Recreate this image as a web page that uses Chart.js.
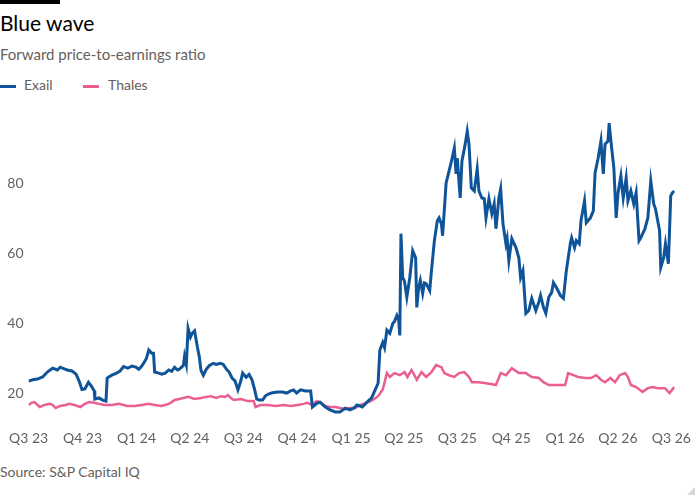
<!DOCTYPE html>
<html>
<head>
<meta charset="utf-8">
<script src="https://cdn.jsdelivr.net/npm/chart.js@4.4.1/dist/chart.umd.min.js"></script>
<style>
  body { margin: 0; width: 700px; height: 500px; background: #fff; font-family: Lato, sans-serif; position: relative; overflow: hidden; }
  .bar { position: absolute; left: 0; top: 0; width: 60px; height: 4px; background: #000; }
  .title { position: absolute; left: 0; top: 10px; font-size: 21px; color: #000; line-height: 1.2; }
  .subtitle { position: absolute; left: 0; top: 45px; font-size: 15px; color: #66605c; line-height: 1.2; }
  .legend { position: absolute; top: 77px; left: 0; font-size: 14px; color: #66605c; line-height: 1.2; }
  .legend span { position: absolute; white-space: nowrap; }
  .legend i { position: absolute; top: 8px; width: 16px; height: 3px; }
  .source { position: absolute; left: 0; top: 464px; font-size: 14px; color: #66605c; line-height: 1.2; }
  .grip { position: absolute; left: 687px; top: 487px; width: 0; height: 0; border-left: 8px solid transparent; border-bottom: 8px solid #d6d6d6; }
  #wrap { position: absolute; left: 0; top: 100px; width: 700px; height: 360px; }
</style>
</head>
<body>
<div class="bar"></div>
<div class="title">Blue wave</div>
<div class="subtitle">Forward price-to-earnings ratio</div>
<div class="legend">
  <i style="left:0; background:#0f5499"></i><span style="left:24px">Exail</span>
  <i style="left:83px; background:#ea5e93"></i><span style="left:108px">Thales</span>
</div>
<div id="wrap"><canvas id="chart" width="700" height="360"></canvas></div>
<div class="source">Source: S&amp;P Capital IQ</div>
<div class="grip"></div>
<script>
// x = days since 1 Jul 2023, y = forward P/E
const exail = [
  [0,23.4],[7,23.8],[15,24.0],[24,24.6],[32,26.0],[41,27.1],[49,26.6],[54,27.4],[61,26.9],[66,26.6],
  [74,26.3],[81,25.4],[86,23.5],[91,21.0],[96,21.2],[102,23.1],[107,22.0],[112,20.6],[113,18.3],[120,18.6],
  [127,17.9],[132,17.7],[134,24.3],[142,25.1],[149,25.6],[156,26.3],[162,27.6],[169,27.1],[176,27.7],[183,27.4],
  [188,26.8],[193,27.7],[198,29.0],[201,30.0],[205,32.3],[210,31.4],[213,31.4],[215,26.0],[222,25.7],[227,25.4],
  [233,25.7],[239,26.6],[244,26.2],[249,27.4],[254,26.6],[257,26.8],[264,27.9],[266,30.5],[269,28.2],[272,38.5],
  [276,36.0],[279,37.1],[283,37.8],[288,33.0],[291,30.5],[294,26.5],[298,25.1],[303,26.8],[308,27.8],[315,28.5],
  [320,28.2],[327,28.5],[332,28.2],[337,26.9],[342,26.0],[347,24.3],[352,23.5],[357,20.9],[362,23.5],[365,25.7],
  [371,24.5],[376,25.3],[381,23.8],[386,20.6],[389,18.3],[393,18.0],[399,18.0],[404,19.2],[409,19.7],[416,20.1],
  [425,20.3],[433,20.3],[440,20.0],[447,20.6],[452,20.9],[457,20.0],[464,20.9],[472,20.6],[481,20.6],[484,16.0],
  [491,17.0],[497,17.4],[506,16.0],[514,15.2],[523,14.6],[531,14.6],[540,15.7],[548,15.2],[555,15.7],[560,16.6],
  [569,16.0],[577,17.4],[585,18.6],[591,20.9],[596,22.8],[599,32.3],[604,34.5],[607,33.0],[611,38.0],[616,37.1],
  [621,39.9],[624,40.5],[628,42.2],[631,41.0],[633,36.5],[635,65.6],[638,53.0],[641,52.0],[645,47.4],[650,53.0],
  [655,60.7],[660,58.7],[662,44.5],[665,50.0],[668,52.2],[672,48.5],[675,51.5],[678,51.3],[684,49.3],[687,55.0],
  [692,63.6],[697,69.3],[700,70.1],[704,68.4],[706,65.0],[712,80.1],[717,83.5],[722,87.0],[726,90.1],[729,82.7],
  [731,87.2],[736,75.8],[739,86.4],[744,90.7],[748,94.9],[751,91.2],[755,78.7],[760,77.8],[765,84.1],[768,77.8],
  [773,75.8],[777,75.6],[780,70.1],[785,75.6],[790,71.3],[794,74.1],[797,67.0],[802,75.8],[805,78.4],[809,68.4],
  [814,62.7],[816,64.2],[819,57.9],[824,64.2],[831,61.6],[836,58.7],[839,53.0],[843,55.0],[848,42.8],[853,43.6],
  [858,47.1],[865,43.6],[870,46.0],[873,47.9],[878,44.5],[882,42.8],[887,47.4],[892,48.8],[895,51.6],[900,50.2],
  [907,47.9],[912,47.1],[917,55.0],[924,63.0],[926,64.4],[931,61.6],[934,63.6],[939,62.7],[942,69.3],[948,75.0],
  [951,68.7],[958,70.1],[963,72.1],[966,83.0],[971,87.0],[976,92.1],[980,82.7],[983,91.2],[988,92.1],[990,97.2],
  [993,92.1],[998,84.4],[1002,70.1],[1005,77.0],[1010,82.1],[1014,75.8],[1019,81.5],[1022,75.0],[1027,77.8],[1032,74.1],
  [1036,77.3],[1041,63.6],[1044,64.4],[1051,67.0],[1056,70.1],[1061,80.7],[1066,74.1],[1069,72.7],[1076,66.4],[1078,55.9],
  [1083,58.7],[1086,62.7],[1091,57.0],[1095,76.4],[1098,77.3],[1101,77.8]
];

const thales = [
  [0,16.6],[5,17.2],[10,17.4],[19,16.0],[27,16.6],[36,16.9],[41,16.6],[46,15.7],[54,16.3],[63,16.6],
  [69,16.9],[78,16.6],[88,16.0],[96,16.9],[103,17.4],[112,17.2],[120,16.9],[130,16.6],[142,16.6],[154,16.9],
  [168,16.3],[181,16.3],[193,16.6],[205,16.9],[215,16.6],[227,16.3],[239,16.9],[244,17.4],[249,18.0],[257,18.3],
  [264,18.6],[272,18.9],[283,18.3],[294,18.6],[303,18.9],[311,19.1],[320,18.6],[328,19.1],[335,18.9],[340,19.4],
  [345,18.6],[350,18.0],[362,18.3],[374,17.7],[384,17.7],[387,16.0],[396,16.6],[408,16.6],[421,16.3],[435,16.6],
  [447,16.3],[459,16.6],[469,16.9],[475,17.2],[484,16.6],[491,17.7],[497,17.4],[506,16.3],[514,16.0],[523,16.0],
  [531,15.7],[540,15.4],[548,15.7],[557,15.7],[565,16.6],[577,17.2],[587,18.0],[596,19.1],[604,21.0],[611,25.7],
  [616,24.6],[624,25.7],[633,25.1],[641,26.0],[646,24.6],[653,26.6],[662,23.8],[670,26.0],[678,24.6],[687,26.0],
  [695,28.0],[704,27.4],[709,25.7],[717,25.1],[726,24.6],[734,25.7],[743,26.0],[751,24.6],[756,23.1],[768,23.1],
  [780,22.8],[788,22.6],[797,22.3],[805,25.7],[814,25.1],[824,27.1],[836,25.7],[848,25.7],[858,24.6],[870,24.3],
  [878,23.1],[887,22.3],[898,22.3],[909,22.3],[915,22.3],[920,25.7],[929,25.1],[937,24.6],[949,24.3],[959,24.3],
  [968,25.1],[976,23.8],[983,23.1],[992,24.3],[1000,23.1],[1008,25.1],[1017,25.7],[1022,24.6],[1027,22.3],[1036,21.7],
  [1047,20.3],[1056,21.4],[1064,21.7],[1073,21.4],[1085,21.4],[1093,20.0],[1101,21.7]
];

const quarterDays = [0, 92, 184, 275, 366, 458, 550, 640, 731, 823, 915, 1005, 1096];
const quarterLabels = ['Q3 23', 'Q4 23', 'Q1 24', 'Q2 24', 'Q3 24', 'Q4 24', 'Q1 25', 'Q2 25', 'Q3 25', 'Q4 25', 'Q1 26', 'Q2 26', 'Q3 26'];
const yTicks = [20, 40, 60, 80];

const toPoints = arr => arr.map(p => ({ x: p[0], y: p[1] }));
const tickFont = { family: 'Lato', size: 14 };

new Chart(document.getElementById('chart').getContext('2d'), {
    type: 'line',
    data: {
        datasets: [
            { label: 'Exail', data: toPoints(exail), borderColor: '#0f5499', borderWidth: 3, pointRadius: 0, tension: 0 },
            { label: 'Thales', data: toPoints(thales), borderColor: '#ea5e93', borderWidth: 2.5, pointRadius: 0, tension: 0 }
        ]
    },
    options: {
        responsive: false,
        animation: false,
        devicePixelRatio: 1,
        layout: { padding: { top: 12, right: 23, left: 0, bottom: 0 } },
        plugins: { legend: { display: false }, tooltip: { enabled: false } },
        scales: {
            x: {
                type: 'linear',
                min: 0,
                max: 1102,
                grid: { display: false, drawTicks: false },
                border: { display: false },
                afterBuildTicks: scale => { scale.ticks = quarterDays.map(v => ({ value: v })); },
                afterFit: scale => { scale.height = 39; },
                ticks: {
                    autoSkip: false,
                    maxRotation: 0,
                    padding: 9,
                    color: '#66605c',
                    font: tickFont,
                    callback: (v) => quarterLabels[quarterDays.indexOf(v)]
                }
            },
            y: {
                min: 12,
                max: 100,
                grid: { display: false, drawTicks: false },
                border: { display: false },
                afterBuildTicks: scale => { scale.ticks = yTicks.map(v => ({ value: v })); },
                afterFit: scale => { scale.width = 26; },
                ticks: { padding: 5, color: '#66605c', font: tickFont }
            }
        }
    }
});
</script>
</body>
</html>
